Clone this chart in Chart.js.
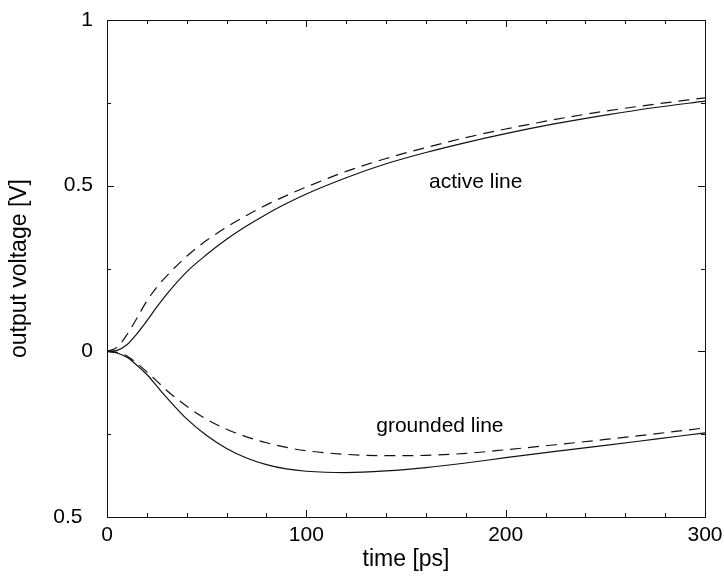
<!DOCTYPE html>
<html>
<head>
<meta charset="utf-8">
<script src="https://cdn.jsdelivr.net/npm/chart.js@4/dist/chart.umd.min.js"></script>
<style>
  body { margin: 0; background: #fff; }
  #chart { display: block; }
</style>
</head>
<body>
<canvas id="chart" width="724" height="576"></canvas>
<script>
// time axis [ps]
const timePs = [0, 5, 10, 15, 20, 25, 30, 40, 50, 60, 70, 80, 90, 100, 120, 140, 160, 180, 200, 225, 250, 275, 300];

// output voltage [V]
const activeSolid = [0, 0.003, 0.02, 0.053, 0.092, 0.134, 0.173, 0.24, 0.292, 0.338, 0.378, 0.414, 0.446, 0.475, 0.524, 0.566, 0.6, 0.63, 0.657, 0.687, 0.713, 0.736, 0.755];
const activeDashed = [0, 0.012, 0.05, 0.1, 0.152, 0.194, 0.228, 0.287, 0.335, 0.375, 0.41, 0.442, 0.47, 0.496, 0.543, 0.582, 0.615, 0.645, 0.671, 0.7, 0.725, 0.746, 0.765];
const groundedSolid = [0, -0.005, -0.018, -0.042, -0.07, -0.105, -0.14, -0.204, -0.254, -0.293, -0.322, -0.342, -0.355, -0.362, -0.366, -0.361, -0.351, -0.337, -0.321, -0.302, -0.284, -0.265, -0.246];
const groundedDashed = [0, -0.003, -0.014, -0.036, -0.062, -0.09, -0.118, -0.166, -0.205, -0.235, -0.258, -0.276, -0.29, -0.3, -0.311, -0.315, -0.314, -0.308, -0.297, -0.282, -0.266, -0.249, -0.231];

// text labels placed in data coordinates
const curveLabels = [
    { text: 'active line', t: 185, v: 0.509 },
    { text: 'grounded line', t: 167, v: -0.226 },
];

const FONT = 'Liberation Sans, Arial, Helvetica, sans-serif';
const INK = '#111';

function toPoints(values) {
    return timePs.map((t, i) => ({ x: t, y: values[i] }));
}

function lineSet(label, values, dashed) {
    return {
        label: label,
        data: toPoints(values),
        borderColor: INK,
        borderWidth: 1.2,
        borderDash: dashed ? [11, 7] : [],
        pointRadius: 0,
        fill: false,
        cubicInterpolationMode: 'monotone',
    };
}

// frame with inward ticks on all four sides, plus curve labels
const framePlugin = {
    id: 'frame',
    afterDraw(chart) {
        const c = chart.ctx;
        const a = chart.chartArea;
        const xs = chart.scales.x;
        const ys = chart.scales.y;
        c.save();
        c.strokeStyle = INK;
        c.lineWidth = 1;
        c.strokeRect(a.left + 0.5, a.top + 0.5, a.right - a.left, a.bottom - a.top);
        c.beginPath();
        for (let t = 0; t <= 300; t += 20) {
            const px = Math.round(xs.getPixelForValue(t)) + 0.5;
            const len = t % 100 === 0 ? 7 : 4;
            c.moveTo(px, a.bottom); c.lineTo(px, a.bottom - len);
            c.moveTo(px, a.top); c.lineTo(px, a.top + len);
        }
        for (let k = 0; k <= 6; k++) {
            const v = -0.5 + k * 0.25;
            const py = Math.round(ys.getPixelForValue(v)) + 0.5;
            const len = k % 2 === 0 ? 7 : 4;
            c.moveTo(a.left, py); c.lineTo(a.left + len, py);
            c.moveTo(a.right, py); c.lineTo(a.right - len, py);
        }
        c.stroke();

        c.fillStyle = '#000';
        c.font = '21px ' + FONT;
        c.textAlign = 'center';
        c.textBaseline = 'middle';
        curveLabels.forEach(l => {
            c.fillText(l.text, xs.getPixelForValue(l.t), ys.getPixelForValue(l.v));
        });
        c.restore();
    }
};

function drawVoltageChart(canvasId) {
    const ctx = document.getElementById(canvasId);
    new Chart(ctx, {
        type: 'line',
        data: {
            datasets: [
                lineSet('active', activeSolid, false),
                lineSet('active (dashed)', activeDashed, true),
                lineSet('grounded', groundedSolid, false),
                lineSet('grounded (dashed)', groundedDashed, true),
            ]
        },
        options: {
            responsive: false,
            animation: false,
            layout: { padding: { left: 0, right: 19, top: 20, bottom: 0 } },
            plugins: {
                legend: { display: false },
                tooltip: { enabled: false },
            },
            scales: {
                x: {
                    type: 'linear',
                    min: 0,
                    max: 300,
                    grid: { display: false, drawTicks: false },
                    border: { display: false },
                    ticks: { stepSize: 100, color: '#000', padding: 6, maxRotation: 0, font: { family: FONT, size: 21 } },
                    title: { display: true, text: 'time [ps]', color: '#000', padding: { top: 0, bottom: 3 }, font: { family: FONT, size: 23 } },
                    afterFit(scale) {
                        scale.height = 59;
                        scale.paddingLeft = 0;
                        scale.paddingRight = 0;
                    },
                },
                y: {
                    min: -0.5,
                    max: 1,
                    grid: { display: false, drawTicks: false },
                    border: { display: false },
                    ticks: {
                        stepSize: 0.5,
                        color: '#000',
                        padding: 14,
                        font: { family: FONT, size: 21 },
                        callback: v => v < 0 ? Math.abs(v) + '\u2002' : String(v),
                    },
                    title: { display: true, text: 'output voltage [V]', color: '#000', padding: { top: 6, bottom: 0 }, font: { family: FONT, size: 23 } },
                    afterFit(scale) {
                        scale.width = 107;
                        scale.paddingTop = 0;
                        scale.paddingBottom = 0;
                    },
                },
            },
        },
        plugins: [framePlugin],
    });
}

drawVoltageChart('chart');
</script>
</body>
</html>
